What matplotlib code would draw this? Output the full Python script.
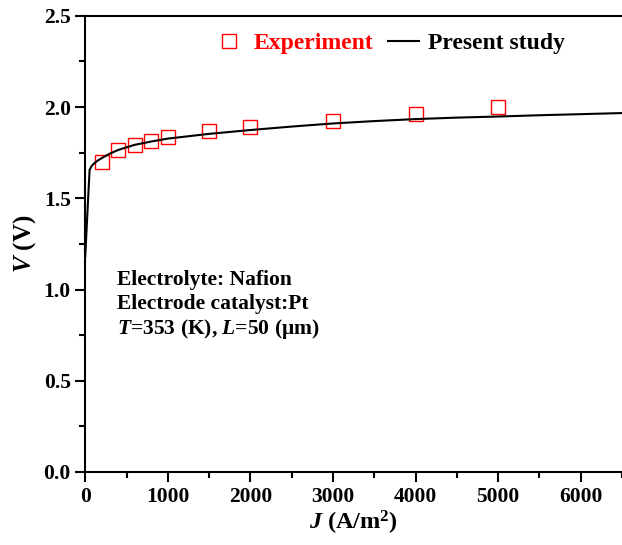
import matplotlib
matplotlib.use("Agg")
import matplotlib.pyplot as plt
from matplotlib.ticker import MultipleLocator

plt.rcParams["font.family"] = "Liberation Serif"
plt.rcParams["font.weight"] = "bold"
plt.rcParams["axes.labelweight"] = "bold"
plt.rcParams["mathtext.fontset"] = "custom"
plt.rcParams["mathtext.rm"] = "Liberation Serif:bold"
plt.rcParams["mathtext.it"] = "Liberation Serif:bold:italic"
plt.rcParams["mathtext.bf"] = "Liberation Serif:bold"

# experimental points
exp_j = [200, 400, 600, 800, 1000, 1500, 2000, 3000, 4000, 5000]
exp_v = [1.70, 1.765, 1.79, 1.815, 1.835, 1.87, 1.89, 1.926, 1.963, 2.00]

# model curve
model_j = [0, 20, 40, 53, 75, 100, 150, 200, 300, 400, 600, 800, 1000,
           1500, 2000, 2500, 3000, 3500, 4000, 4500, 5000, 5500, 6000, 6500]
model_v = [1.18, 1.36, 1.54, 1.655, 1.675, 1.688, 1.706, 1.72, 1.745, 1.765,
           1.793, 1.811, 1.827, 1.853, 1.874, 1.893, 1.910, 1.923, 1.934,
           1.942, 1.948, 1.955, 1.961, 1.967]

fig = plt.figure(figsize=(6.22, 5.45), dpi=100)
ax = fig.add_axes([0.137, 0.134, 0.863, 0.837])

ax.plot(exp_j, exp_v, ls="none", marker="s", ms=10, mfc="none", mec="red",
        mew=1.0, label="Experiment")
ax.plot(model_j, model_v, color="black", lw=1.5, label="Present study")

ax.set_xlim(0, 6500)
ax.set_ylim(0, 2.5)
ax.xaxis.set_major_locator(MultipleLocator(1000))
ax.xaxis.set_minor_locator(MultipleLocator(500))
ax.yaxis.set_major_locator(MultipleLocator(0.5))
ax.yaxis.set_minor_locator(MultipleLocator(0.25))
ax.tick_params(which="major", direction="out", length=7, width=1.5, labelsize=15.5)
ax.tick_params(which="minor", direction="out", length=4, width=1.5)
for side in ["left", "bottom", "top"]:
    ax.spines[side].set_linewidth(1.5)
ax.spines["right"].set_visible(False)
for lab in ax.get_xticklabels() + ax.get_yticklabels():
    lab.set_fontweight("bold")

ax.set_xlabel(r"$J$ (A/m$^{2}$)", fontsize=17.5, fontweight="bold", labelpad=2)
ax.set_ylabel(r"$V$ (V)", fontsize=18, fontweight="bold", labelpad=4)

leg = ax.legend(loc="upper left", bbox_to_anchor=(0.2, 1.01), ncol=2, frameon=False,
                prop={"size": 17, "weight": "bold"}, handlelength=1.3,
                columnspacing=0.6, handletextpad=0.4)
leg.get_texts()[0].set_color("red")

ax.text(0.06, 0.421, "Electrolyte: Nafion", transform=ax.transAxes, fontsize=15.5,
        fontweight="bold", va="center")
ax.text(0.06, 0.368, "Electrode catalyst:Pt", transform=ax.transAxes, fontsize=15.5,
        fontweight="bold", va="center")
ax.text(0.06, 0.314, r"$T$=353 (K), $L$=50 (μm)", transform=ax.transAxes, fontsize=15.5,
        fontweight="bold", va="center")

fig.savefig("out.png", dpi=100)
